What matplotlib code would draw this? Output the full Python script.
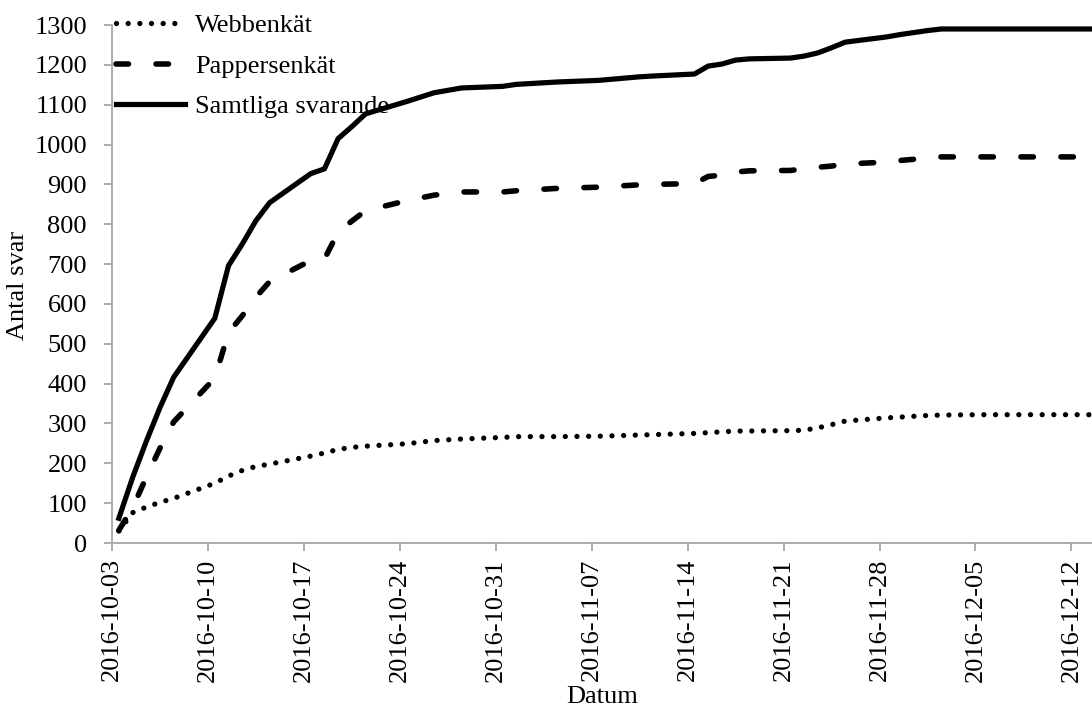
import numpy as np
import pandas as pd
import matplotlib
matplotlib.use("Agg")
import matplotlib.pyplot as plt
import matplotlib.dates as mdates

plt.rcParams["font.family"] = ["Liberation Serif", "DejaVu Serif"]

# weekdays 2016-10-03 .. 2016-12-13
dates = pd.bdate_range("2016-10-03", "2016-12-13")

webb = [30, 76, 90, 102, 112,
        150, 168, 182, 192, 198,
        218, 226, 235, 240, 243,
        249, 253, 257, 259, 261,
        265, 267, 267, 267, 267,
        268, 269, 270, 271, 272,
        275, 277, 279, 281, 281,
        282, 283, 289, 297, 306,
        314, 316, 318, 320, 321,
        322, 322, 322, 322, 322,
        322, 322]
papper = [32, 88, 165, 238, 304,
          414, 528, 570, 617, 656,
          709, 713, 780, 808, 834,
          859, 866, 873, 877, 881,
          881, 884, 886, 888, 890,
          893, 895, 897, 899, 900,
          902, 920, 923, 931, 934,
          935, 939, 943, 946, 951,
          956, 960, 963, 966, 969,
          969, 969, 969, 969, 969,
          969, 969]
samtliga = [62, 164, 255, 340, 416,
            564, 696, 750, 809, 854,
            927, 939, 1015, 1045, 1077,
            1108, 1119, 1130, 1136, 1142,
            1146, 1151, 1153, 1155, 1157,
            1161, 1164, 1167, 1170, 1172,
            1177, 1197, 1202, 1212, 1215,
            1217, 1222, 1230, 1243, 1257,
            1270, 1276, 1281, 1286, 1290,
            1290, 1290, 1290, 1290, 1290,
            1290, 1290]
labels = ["Webbenkät", "Pappersenkät", "Samtliga svarande"]

x = dates + pd.Timedelta(hours=12)
fs = 19

fig = plt.figure(figsize=(10.92, 7.10), dpi=100)
ax = fig.add_axes([112/1092, 1 - 543/710, 1 - 112/1092, (543 - 25)/710])

ax.plot(x, webb, color="black", lw=3.8, linestyle=(0, (0.01, 2.2)),
        dash_capstyle="round", label=labels[0])
ax.plot(x, papper, color="black", lw=4, linestyle=(0, (2.25, 4.95)),
        dash_capstyle="round", label=labels[1])
ax.plot(x, samtliga, color="black", lw=3.75, label=labels[2])

start = pd.Timestamp("2016-10-03")
ax.set_xlim(start, start + pd.Timedelta(days=71.5))
ax.set_ylim(0, 1300)
ax.set_yticks(np.arange(0, 1301, 100))
ax.set_xticks(pd.date_range("2016-10-03", "2016-12-12", freq="7D"))
ax.xaxis.set_major_formatter(mdates.DateFormatter("%Y-%m-%d"))

for s in ["top", "right"]:
    ax.spines[s].set_visible(False)
for s in ["left", "bottom"]:
    ax.spines[s].set_color("#a6a6a6")
    ax.spines[s].set_linewidth(1.3)
ax.tick_params(axis="both", colors="#a6a6a6", length=6, width=1.3,
               labelsize=fs, labelcolor="black")
ax.tick_params(axis="x", labelrotation=90, pad=5)
ax.tick_params(axis="y", pad=12)

fig.text(18/1092, 1 - 285/710, "Antal svar", rotation=90, fontsize=fs,
         ha="center", va="center")
fig.text(602/1092, 1 - 697/710, "Datum", fontsize=fs, ha="center", va="center")

fig.legend(loc="upper left", bbox_to_anchor=(116/1092, 1 - 14/710),
           frameon=False, fontsize=fs, handlelength=2.6, handletextpad=0.4,
           borderpad=0, borderaxespad=0, labelspacing=0.64)

fig.savefig("out.png", dpi=100)
